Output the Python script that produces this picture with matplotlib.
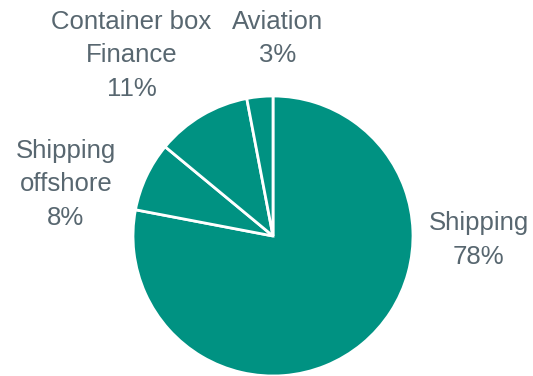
import matplotlib
matplotlib.use("Agg")
import matplotlib.pyplot as plt

plt.rcParams["font.family"] = ["Liberation Sans", "DejaVu Sans"]

# share of portfolio by sector
labels = ["Shipping", "Shipping\noffshore", "Container box\nFinance", "Aviation"]
shares = [78, 8, 11, 3]

# label centres, in pie-radius units
label_xy = [(1.47, -0.03), (-1.48, 0.37), (-1.01, 1.29), (0.03, 1.41)]

teal = "#009282"
grey = "#586770"

fig = plt.figure(figsize=(5.33, 3.76), dpi=100)
ax = fig.add_axes([133 / 533, 0, 280 / 533, 280 / 376])

wedges, _ = ax.pie(shares, colors=[teal] * len(shares), startangle=90,
                   counterclock=False, radius=1.0,
                   wedgeprops=dict(edgecolor="white", linewidth=2))
ax.set_xlim(-1, 1)
ax.set_ylim(-1, 1)
ax.set_aspect("equal")
ax.axis("off")

for lab, val, (x, y) in zip(labels, shares, label_xy):
    ax.text(x, y, "{}\n{}%".format(lab, val), ha="center", va="center",
            fontsize=18.5, color=grey, linespacing=1.5, clip_on=False)

plt.savefig("out.png", dpi=100)
